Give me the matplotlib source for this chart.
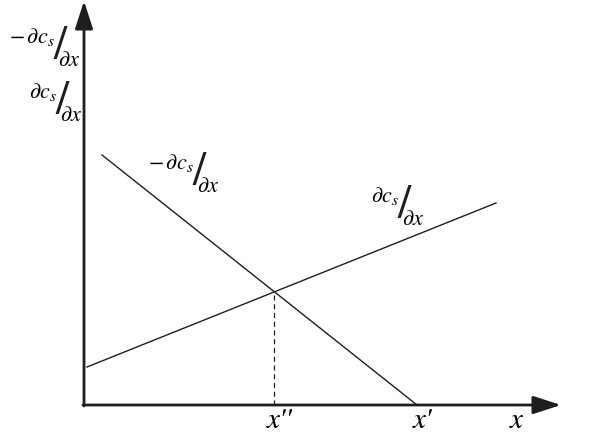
import matplotlib.pyplot as plt

plt.rcParams['mathtext.fontset'] = 'stix'
plt.rcParams['font.family'] = ['STIXGeneral', 'DejaVu Serif']

# line end points (data units, origin at the axes corner)
falling_x = [18, 333]
falling_y = [250, 0]
rising_x = [3, 412]
rising_y = [38, 202]

# intersection of the two lines
m1 = (falling_y[1] - falling_y[0]) / (falling_x[1] - falling_x[0])
m2 = (rising_y[1] - rising_y[0]) / (rising_x[1] - rising_x[0])
b1 = falling_y[0] - m1 * falling_x[0]
b2 = rising_y[0] - m2 * rising_x[0]
x_int = (b2 - b1) / (m1 - m2)
y_int = m1 * x_int + b1

fig = plt.figure(figsize=(5.9, 4.48), dpi=100)
ax = fig.add_axes([0, 0, 1, 1])
ax.set_xlim(-84, 506)
ax.set_ylim(-43, 405)
ax.axis('off')

ink = '#1e1e1e'

# axes with arrows
arrow = dict(arrowstyle='-|>,head_length=1.7,head_width=0.55', color=ink, lw=2.0, shrinkA=0, shrinkB=0)
ax.annotate('', xy=(477, 0), xytext=(-1, 0), arrowprops=arrow)
ax.annotate('', xy=(0, 404), xytext=(0, -1), arrowprops=arrow)

ax.plot(falling_x, falling_y, color=ink, lw=1.0)
ax.plot(rising_x, rising_y, color=ink, lw=1.0)
ax.plot([x_int, x_int], [0, y_int], color=ink, lw=0.9, ls=(0, (4, 3)))


def slash_frac(num, sx, sy):
    # numerator above-left, slash, denominator below-right
    ax.text(sx - 5, sy + 11, num, fontsize=16, ha='right', va='center')
    ax.text(sx, sy, '/', fontsize=34, ha='center', va='center', color=ink)
    ax.text(sx - 2, sy - 13, r'$\partial x$', fontsize=16, ha='left', va='center')


slash_frac(r'$-\,\partial c_{s}$', -24, 357)
slash_frac(r'$\partial c_{s}$', -22, 302)
slash_frac(r'$-\,\partial c_{s}$', 115, 231)
slash_frac(r'$\partial c_{s}$', 320, 198)

ax.text(183, -16, "x''", fontsize=21, fontstyle='italic', ha='left', va='center')
ax.text(329, -16, "x'", fontsize=21, fontstyle='italic', ha='left', va='center')
ax.text(432, -16, 'x', fontsize=21, fontstyle='italic', ha='center', va='center')

fig.savefig('out.png', dpi=100)
